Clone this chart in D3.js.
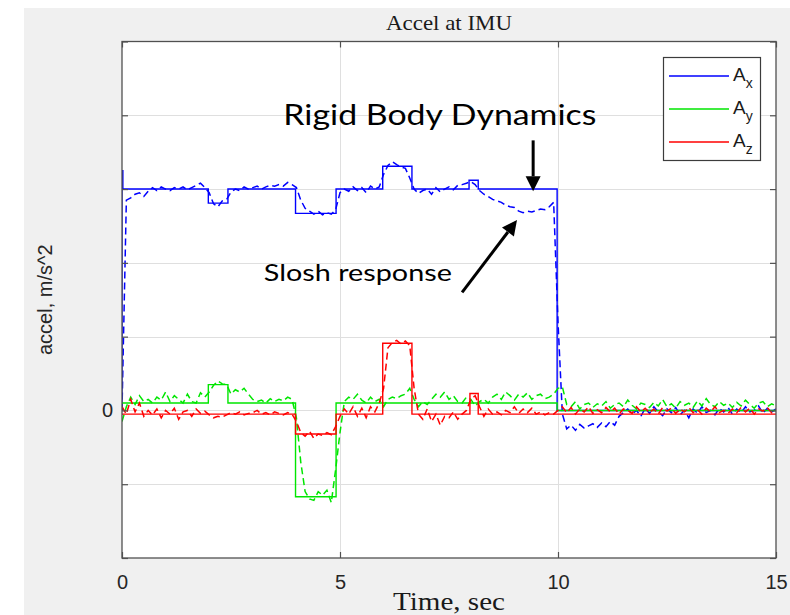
<!DOCTYPE html>
<html>
<head>
<meta charset="utf-8">
<script src="https://cdn.jsdelivr.net/npm/d3@7/dist/d3.min.js"></script>
<style>
html,body{margin:0;padding:0;background:#fff;}
svg{display:block;}
</style>
</head>
<body>
<svg id="chart" width="790" height="615"></svg>
<script>
// ---------------- DATA ----------------
const title = "Accel at IMU";
const xLabel = "Time, sec";
const yLabel = "accel, m/s^2";
const xTicks = [0, 5, 10, 15];
const yTicks = [-2, -1, 0, 1, 2, 3, 4, 5];
const yTickLabels = ["", "", "0", "", "", "", "", ""];
const seriesNames = ["x", "y", "z"];
const seriesColors = ["#0000ff", "#00e600", "#ff0000"];

// commanded (rigid body) accelerations: step breakpoints
const axCmdT = [0, 0, 0.02, 1.98, 2.43, 3.98, 4.91, 5.98, 6.65, 7.96, 8.17, 9.98, 15];
const axCmdV = [0, 3.25, 3.0, 2.81, 3.0, 2.67, 3.0, 3.31, 3.0, 3.12, 3.0, 0, 0];
const ayCmdT = [0, 1.98, 2.43, 3.98, 4.91, 9.98, 15];
const ayCmdV = [0.1, 0.35, 0.1, -1.17, 0.1, 0, 0];
const azCmdT = [0, 3.98, 4.91, 5.98, 6.65, 7.98, 8.17, 15];
const azCmdV = [-0.05, -0.32, -0.05, 0.91, -0.05, 0.23, -0.05, -0.05];

// measured (slosh) accelerations, sampled every 0.1 s
const timeSec = [
  0.0,0.1,0.2,0.3,0.4,0.5,0.6,0.7,0.8,0.9,
  1.0,1.1,1.2,1.3,1.4,1.5,1.6,1.7,1.8,1.9,
  2.0,2.1,2.2,2.3,2.4,2.5,2.6,2.7,2.8,2.9,
  3.0,3.1,3.2,3.3,3.4,3.5,3.6,3.7,3.8,3.9,
  4.0,4.1,4.2,4.3,4.4,4.5,4.6,4.7,4.8,4.9,
  5.0,5.1,5.2,5.3,5.4,5.5,5.6,5.7,5.8,5.9,
  6.0,6.1,6.2,6.3,6.4,6.5,6.6,6.7,6.8,6.9,
  7.0,7.1,7.2,7.3,7.4,7.5,7.6,7.7,7.8,7.9,
  8.0,8.1,8.2,8.3,8.4,8.5,8.6,8.7,8.8,8.9,
  9.0,9.1,9.2,9.3,9.4,9.5,9.6,9.7,9.8,9.9,
  10.0,10.1,10.2,10.3,10.4,10.5,10.6,10.7,10.8,10.9,
  11.0,11.1,11.2,11.3,11.4,11.5,11.6,11.7,11.8,11.9,
  12.0,12.1,12.2,12.3,12.4,12.5,12.6,12.7,12.8,12.9,
  13.0,13.1,13.2,13.3,13.4,13.5,13.6,13.7,13.8,13.9,
  14.0,14.1,14.2,14.3,14.4,14.5,14.6,14.7,14.8,14.9,
  15.0
];
const axMeas = [
  0, 2.85, 2.88, 2.93, 2.95, 2.9, 2.97, 3.02, 2.98, 3.03,
  3.0, 2.98, 3.02, 3.0, 3.03, 2.99, 3.02, 3.05, 3.08, 3.02,
  2.95, 2.8, 2.76, 2.84, 2.86, 2.96, 3.0, 2.98, 3.03, 3.0,
  3.02, 3.04, 3.0, 3.03, 3.05, 3.04, 3.06, 3.04, 3.09, 3.06,
  3.02, 2.85, 2.74, 2.7, 2.66, 2.7, 2.65, 2.68, 2.66, 2.72,
  2.95, 3.0, 2.97, 3.03, 2.98, 3.02, 2.95, 3.04, 3.0, 3.03,
  3.2, 3.32, 3.37, 3.33, 3.3, 3.28, 3.15, 3.0, 2.94, 2.98,
  3.0, 2.93, 3.02, 2.96, 3.0, 3.03, 2.99, 3.05, 3.06, 3.08,
  3.1, 3.06, 2.98, 2.93, 2.9, 2.86, 2.84, 2.82, 2.78, 2.76,
  2.75, 2.7, 2.68, 2.7, 2.69, 2.71, 2.73, 2.72, 2.76, 2.82,
  1.2, -0.05, -0.25, -0.2, -0.27, -0.19, -0.24, -0.21, -0.18, -0.23,
  -0.17, -0.22, -0.15, -0.2, -0.08, -0.03, 0.02, -0.05, 0.0, -0.08,
  0.03, -0.04, 0.05, -0.02, -0.07, 0.02, -0.03, 0.04, -0.06, 0.0,
  -0.1, 0.02, -0.04, 0.05, -0.03, 0.0, -0.06, 0.03, -0.02, 0.04,
  -0.05, 0.02, -0.03, 0.05, -0.02, 0.0, 0.06, -0.04, 0.03, -0.02,
  0.02
];
const ayMeas = [
  -0.15, 0.05, 0.18, 0.08, 0.2, 0.12, 0.15, 0.1, 0.18, 0.14,
  0.25, 0.12, 0.2, 0.15, 0.1, 0.22, 0.12, 0.1, 0.24, 0.18,
  0.25, 0.34, 0.4, 0.36, 0.35, 0.22, 0.28, 0.25, 0.3, 0.22,
  0.15, 0.12, 0.14, 0.1, 0.16, 0.12, 0.15, 0.13, 0.18, 0.15,
  -0.1, -0.7, -1.1, -1.2, -1.22, -1.1, -1.15, -1.08, -1.25, -0.8,
  -0.3, 0.12, 0.18, 0.15, 0.22, 0.14, 0.1, 0.18, 0.12, 0.15,
  0.05, 0.15, 0.18, 0.16, 0.2, 0.22, 0.3, 0.15, 0.05, 0.12,
  0.08, 0.15, 0.22, 0.18, 0.25, 0.15, 0.2, 0.12, 0.1, 0.18,
  0.15, 0.06, 0.12, 0.15, 0.1, 0.18, 0.22, 0.15, 0.25, 0.2,
  0.14, 0.22, 0.18, 0.24, 0.15, 0.2, 0.22, 0.16, 0.18, 0.22,
  0.3, 0.32, 0.08, 0.05, 0.12, 0.02, 0.08, 0.1, 0.04, 0.09,
  0.06, 0.12, 0.03, 0.08, 0.1, 0.05, 0.14, 0.07, 0.02, 0.1,
  0.08, 0.04, 0.11, 0.06, 0.15, 0.05, 0.09, 0.03, 0.12, 0.07,
  0.1, 0.04, 0.13, 0.06, 0.16, 0.08, 0.05, 0.12, 0.07, 0.1,
  0.04, 0.11, 0.06, 0.14, 0.08, 0.03, 0.1, 0.12, 0.05, 0.09,
  0.06
];
const azMeas = [
  0.05, -0.05, 0.15, -0.02, 0.1, -0.08, 0.0, -0.06, 0.02, -0.1,
  0.0, -0.05, 0.03, -0.12, -0.02, 0.0, -0.08, 0.02, -0.04, -0.01,
  -0.06, -0.1, -0.08, -0.09, -0.06, -0.03, -0.05, -0.02, -0.06, -0.04,
  -0.03, 0.0, -0.05, -0.03, -0.06, -0.02, -0.04, -0.06, -0.03, -0.05,
  -0.15, -0.3, -0.35, -0.28, -0.38, -0.32, -0.34, -0.3, -0.33, -0.22,
  -0.08, 0.02, -0.05, 0.05, -0.08, 0.03, -0.1, 0.05, -0.02, 0.1,
  0.3, 0.85, 0.92, 0.95, 0.9, 0.94, 0.88, 0.3, -0.05, -0.12,
  0.02, -0.15, -0.05, -0.2, -0.08, -0.1, -0.02, -0.12, -0.05, 0.0,
  0.15, 0.2, 0.05, -0.08, 0.02, -0.05, -0.02, -0.06, 0.0, -0.03,
  0.05, -0.04, 0.02, -0.03, 0.03, -0.05, -0.02, -0.06, -0.03, -0.05,
  0.0, 0.05, -0.03, 0.04, -0.05, 0.02, -0.02, 0.05, -0.04, 0.01,
  -0.03, 0.04, -0.02, 0.03, -0.05, 0.02, 0.0, -0.04, 0.05, -0.02,
  0.03, -0.03, 0.02, -0.05, 0.04, -0.01, 0.03, -0.04, 0.02, -0.02,
  0.04, -0.03, 0.01, -0.05, 0.03, -0.02, 0.05, -0.03, 0.0, -0.04,
  0.02, -0.03, 0.04, -0.02, 0.03, -0.05, 0.02, -0.01, 0.04, -0.03,
  0.01
];

// annotations (in data coordinates)
const annoRigid = {text: "Rigid Body Dynamics", t: 7.29, v: 3.87};
const annoSlosh = {text: "Slosh response", t: 5.41, v: 1.75};
const arrowRigid = {t0: 9.43, v0: 3.66, t1: 9.43, v1: 2.97};
const arrowSlosh = {t0: 7.8, v0: 1.6, t1: 9.06, v1: 2.58};

// ---------------- LAYOUT ----------------
const W = 790, H = 615;
const L = 122, R = 776, T = 41.5, B = 558;
const svg = d3.select("#chart");

svg.append("rect").attr("x", 24).attr("y", 8).attr("width", W - 24).attr("height", H - 8).attr("fill", "#f0f0f0");
svg.append("rect").attr("x", L).attr("y", T).attr("width", R - L).attr("height", B - T).attr("fill", "#fff");

const x = d3.scaleLinear().domain([0, 15]).range([L, R]);
const y = d3.scaleLinear().domain([-2, 5]).range([B, T]);

// grid
const grid = svg.append("g").attr("stroke", "#dfdfdf").attr("stroke-width", 1);
grid.selectAll("line.gx").data(xTicks.filter(d => d > 0 && d < 15)).join("line")
  .attr("x1", d => Math.round(x(d)) + 0.5).attr("x2", d => Math.round(x(d)) + 0.5)
  .attr("y1", T).attr("y2", B);
grid.selectAll("line.gy").data(yTicks.filter(d => d > -2 && d < 5)).join("line")
  .attr("y1", d => Math.round(y(d)) + 0.5).attr("y2", d => Math.round(y(d)) + 0.5)
  .attr("x1", L).attr("x2", R);

// clip
svg.append("clipPath").attr("id", "clip").append("rect")
  .attr("x", L).attr("y", T).attr("width", R - L).attr("height", B - T);
const plot = svg.append("g").attr("clip-path", "url(#clip)");

const stepLine = d3.line().x(d => x(d[0])).y(d => y(d[1])).curve(d3.curveStepAfter);
const measLine = d3.line().x(d => x(d[0])).y(d => y(d[1]));

const cmdSeries = [[axCmdT, axCmdV], [ayCmdT, ayCmdV], [azCmdT, azCmdV]];
const measSeries = [axMeas, ayMeas, azMeas];

cmdSeries.forEach((s, i) => {
  const pts = s[0].map((t, k) => [t, s[1][k]]);
  plot.append("path").attr("d", stepLine(pts)).attr("fill", "none")
    .attr("stroke", seriesColors[i]).attr("stroke-width", 1.4);
  const mpts = timeSec.map((t, k) => [t, measSeries[i][k]]);
  plot.append("path").attr("d", measLine(mpts)).attr("fill", "none")
    .attr("stroke", seriesColors[i]).attr("stroke-width", 1.5)
    .attr("stroke-dasharray", "7,4");
});

// axes (inward ticks on all four sides)
const axColor = "#505050";
const fontSans = "'Liberation Sans', Arial, Helvetica, sans-serif";
const fontSerif = "'Liberation Serif', 'Times New Roman', serif";

const xAxisB = svg.append("g").attr("transform", `translate(0,${B})`)
  .call(d3.axisBottom(x).tickValues(xTicks).tickSizeInner(-6).tickSizeOuter(0).tickPadding(17).tickFormat(d3.format("d")));
const xAxisT = svg.append("g").attr("transform", `translate(0,${T})`)
  .call(d3.axisTop(x).tickValues(xTicks).tickSizeInner(-6).tickSizeOuter(0).tickFormat(""));
const yAxisL = svg.append("g").attr("transform", `translate(${L},0)`)
  .call(d3.axisLeft(y).tickValues(yTicks).tickSizeInner(-6).tickSizeOuter(0).tickPadding(9).tickFormat((d, i) => yTickLabels[i]));
const yAxisR = svg.append("g").attr("transform", `translate(${R},0)`)
  .call(d3.axisRight(y).tickValues(yTicks).tickSizeInner(-6).tickSizeOuter(0).tickFormat(""));
[xAxisB, xAxisT, yAxisL, yAxisR].forEach(g => {
  g.select(".domain").remove();
  g.selectAll(".tick line").attr("stroke", axColor).attr("stroke-width", 1.2);
  g.selectAll(".tick text").attr("fill", "#262626").attr("font-family", fontSans).attr("font-size", 20);
});

svg.append("rect").attr("x", L).attr("y", T).attr("width", R - L).attr("height", B - T)
  .attr("fill", "none").attr("stroke", axColor).attr("stroke-width", 1.3);

// title and labels
svg.append("text").attr("x", (L + R) / 2).attr("y", 30).attr("text-anchor", "middle")
  .attr("font-family", fontSerif).attr("font-size", 22).attr("fill", "#1a1a1a")
  .attr("textLength", 126).attr("lengthAdjust", "spacingAndGlyphs").text(title);
svg.append("text").attr("x", (L + R) / 2).attr("y", 610).attr("text-anchor", "middle")
  .attr("font-family", fontSerif).attr("font-size", 25).attr("fill", "#1a1a1a")
  .attr("textLength", 112).attr("lengthAdjust", "spacingAndGlyphs").text(xLabel);
svg.append("text").attr("transform", `translate(52,${(T + B) / 2}) rotate(-90)`).attr("text-anchor", "middle")
  .attr("font-family", fontSans).attr("font-size", 20).attr("fill", "#262626").text(yLabel);

// legend
const lg = svg.append("g");
lg.append("rect").attr("x", 663.5).attr("y", 57.5).attr("width", 97).attr("height", 103)
  .attr("fill", "#fff").attr("stroke", "#3c3c3c").attr("stroke-width", 1.2);
seriesNames.forEach((n, i) => {
  const yy = 76 + i * 33;
  lg.append("line").attr("x1", 669).attr("x2", 729).attr("y1", yy).attr("y2", yy)
    .attr("stroke", seriesColors[i]).attr("stroke-width", 1.3);
  const t = lg.append("text").attr("x", 733).attr("y", yy + 5)
    .attr("font-family", fontSans).attr("font-size", 19).attr("fill", "#1a1a1a");
  t.append("tspan").text("A");
  t.append("tspan").attr("dy", 7).attr("font-size", 14).text(n);
});

// annotations
const fontAnno = "Lato, 'Open Sans', sans-serif";
svg.append("text").attr("x", x(annoRigid.t)).attr("y", y(annoRigid.v)).attr("text-anchor", "middle")
  .attr("font-family", fontAnno).attr("font-size", 29).attr("fill", "#000")
  .attr("textLength", 313).attr("lengthAdjust", "spacingAndGlyphs").text(annoRigid.text);
svg.append("text").attr("x", x(annoSlosh.t)).attr("y", y(annoSlosh.v)).attr("text-anchor", "middle")
  .attr("font-family", fontAnno).attr("font-size", 24).attr("fill", "#000")
  .attr("textLength", 188).attr("lengthAdjust", "spacingAndGlyphs").text(annoSlosh.text);

function arrow(a) {
  const x0 = x(a.t0), y0 = y(a.v0), x1 = x(a.t1), y1 = y(a.v1);
  const ang = Math.atan2(y1 - y0, x1 - x0);
  const hl = 15, hw = 7.5;
  const bx = x1 - hl * Math.cos(ang), by = y1 - hl * Math.sin(ang);
  svg.append("line").attr("x1", x0).attr("y1", y0).attr("x2", bx).attr("y2", by)
    .attr("stroke", "#000").attr("stroke-width", 3);
  const px = -Math.sin(ang) * hw, py = Math.cos(ang) * hw;
  svg.append("path").attr("d", `M${x1},${y1}L${bx + px},${by + py}L${bx - px},${by - py}Z`).attr("fill", "#000");
}
arrow(arrowRigid);
arrow(arrowSlosh);
</script>
</body>
</html>
